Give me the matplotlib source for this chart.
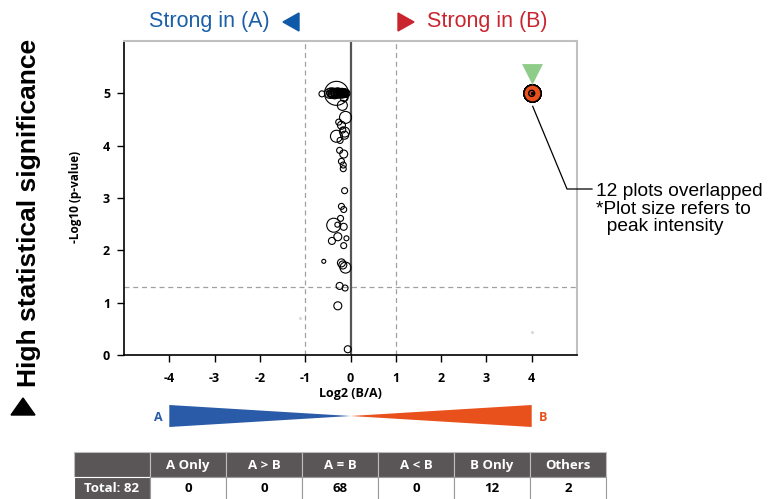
import matplotlib
matplotlib.use("Agg")
import matplotlib.pyplot as plt
import numpy as np
from matplotlib.patches import Rectangle, Polygon

# ---------------- data ----------------
# A = B proteins (log2 ratio, -log10 p, relative peak intensity)
eq_x = [-0.31, -0.63, -0.46, -0.42, -0.38, -0.35, -0.32, -0.28, -0.25, -0.22, -0.19, -0.16,
        -0.13, -0.10, -0.40, -0.36, -0.27, -0.23, -0.18, -0.14, -0.12, -0.30, -0.20,
        -0.18, -0.14, -0.11, -0.26, -0.20, -0.13, -0.31, -0.13, -0.23, -0.17, -0.24,
        -0.15, -0.20, -0.16, -0.16, -0.13, -0.20, -0.15, -0.22, -0.37, -0.29, -0.15,
        -0.28, -0.41, -0.09, -0.15, -0.59, -0.20, -0.11, -0.17, -0.24, -0.12, -0.28,
        -0.06, -0.33, -0.21, -0.26, -0.17, -0.44, -0.12, -0.19, -0.34, -0.24, -0.15, -0.29]
eq_y = [5.00, 4.99, 5.00, 5.01, 5.00, 4.99, 5.00, 5.01, 5.00, 5.00, 5.01, 5.00,
        5.00, 5.00, 4.98, 5.02, 4.99, 5.01, 4.99, 5.00, 5.02, 5.00, 4.98,
        4.77, 4.92, 4.54, 4.45, 4.39, 4.26, 4.18, 4.20, 4.10, 4.30, 3.91,
        3.84, 3.70, 3.63, 3.56, 3.14, 2.84, 2.78, 2.61, 2.48, 2.49, 2.45,
        2.26, 2.18, 2.23, 2.09, 1.79, 1.76, 1.67, 1.72, 1.32, 1.28, 0.94,
        0.11, 5.00, 5.00, 5.00, 5.00, 5.00, 5.00, 5.00, 5.00, 5.00, 5.00, 5.00]
eq_int = [12, 3, 5, 5, 5, 5, 5, 5, 4.5, 4.5, 4.5, 4.5,
          4, 4, 4, 4, 4, 4, 4, 4, 3.5, 4, 3.5,
          5, 4, 6, 3, 4, 5, 6, 4, 3, 3, 3,
          4, 3, 3, 3, 3, 3, 3, 3, 7, 2.5, 3.5,
          4, 3.5, 2.5, 3, 2, 4, 5.5, 4, 3.5, 3, 4,
          3.5, 4, 4, 4, 4, 3.5, 4, 4, 4, 3.5, 3.5, 3.5]

# B only proteins (12 overlapping at the same position)
bonly_x = [4.0] * 12
bonly_y = [5.0] * 12

# others
oth_x = [-1.11, 4.0]
oth_y = [0.70, 0.44]

x_ticks = [-4, -3, -2, -1, 0, 1, 2, 3, 4]
y_ticks = [0, 1, 2, 3, 4, 5]
fc_thr = 1.0
p_thr = 1.301

tbl_header = ["", "A Only", "A > B", "A = B", "A < B", "B Only", "Others"]
tbl_row = ["Total: 82", "0", "0", "68", "0", "12", "2"]

# ---------------- figure ----------------
W, H = 768, 499
fig = plt.figure(figsize=(W / 100, H / 100), dpi=100)

def fx(px):
    return px / W

def fy(py):
    return 1 - py / H

ax_l, ax_r, ax_t, ax_b = 124, 577, 41, 355
ax = fig.add_axes([fx(ax_l), fy(ax_b), fx(ax_r - ax_l), (ax_b - ax_t) / H])
ax.set_xlim(-5, 5)
ax.set_ylim(0, 6)

def rad2s(r):
    return (2 * r * 0.72) ** 2

ax.axvline(0, color="#555555", lw=1.6, zorder=1)
for v in (-fc_thr, fc_thr):
    ax.axvline(v, color="#a0a0a0", lw=0.9, ls=(0, (4, 3)), zorder=1)
ax.axhline(p_thr, color="#a0a0a0", lw=0.9, ls=(0, (4, 3)), zorder=1)

ax.scatter(eq_x, eq_y, s=[rad2s(r) for r in eq_int], facecolors="none",
           edgecolors="black", linewidths=0.8, zorder=3)
ax.scatter(oth_x, oth_y, s=rad2s(1.5), color="#d8d8d8", linewidths=0, zorder=2)
ax.scatter(bonly_x, bonly_y, s=rad2s(8.5), facecolors="#e8501c",
           edgecolors="black", linewidths=1.0, zorder=4)
ax.scatter(bonly_x[:1], bonly_y[:1], s=rad2s(3), facecolors="none",
           edgecolors="black", linewidths=1.0, zorder=5)
ax.scatter(bonly_x[:1], bonly_y[:1], s=rad2s(1), color="black", zorder=5)
# green marker above B only
ax.scatter([bonly_x[0]], [bonly_y[0] + 0.36], marker="v", s=225,
           color="#8fcc8a", linewidths=0, zorder=4)

for side in ("left", "bottom"):
    ax.spines[side].set_color("black")
    ax.spines[side].set_linewidth(1.2)
for side in ("top", "right"):
    ax.spines[side].set_color("#c0c0c0")
    ax.spines[side].set_linewidth(1.5)

tick_font = dict(fontsize=9, fontweight="bold", family="Open Sans")
ax.set_xticks(x_ticks)
ax.set_xticklabels([str(t) for t in x_ticks], **tick_font)
ax.set_yticks(y_ticks)
ax.set_yticklabels([str(t) for t in y_ticks], **tick_font)
ax.tick_params(axis="both", direction="out", length=5, width=1.0)
ax.tick_params(axis="y", pad=5)
ax.tick_params(axis="x", pad=7)
ax.set_xlabel("Log2 (B/A)", labelpad=2, **tick_font)

fig.text(fx(75), fy(197), "-Log10 (p-value)", rotation=90, fontsize=8.5,
         fontweight="bold", family="Open Sans", ha="center", va="center")

fig.text(fx(29), fy(213), "High statistical significance", rotation=90,
         fontsize=19, fontweight="bold", family="Liberation Sans",
         ha="center", va="center")

# overlay for decorations in pixel space
ov = fig.add_axes([0, 0, 1, 1], zorder=10)
ov.set_xlim(0, W)
ov.set_ylim(H, 0)
ov.axis("off")
ov.add_patch(Polygon([[11, 415], [35, 415], [23, 398]], closed=True,
                     color="black"))

# titles
blue = "#1a5fa8"
red = "#c9252f"
fig.text(fx(149), fy(22), "Strong in (A)", color=blue, fontsize=15.5,
         family="Liberation Sans", ha="left", va="center")
ov.add_patch(Polygon([[283, 22], [299, 13], [299, 31]], closed=True, color="#0f5aa8"))
ov.add_patch(Polygon([[398, 13], [398, 31], [414, 22]], closed=True, color=red))
fig.text(fx(427), fy(22), "Strong in (B)", color=red, fontsize=15.5,
         family="Liberation Sans", ha="left", va="center")

# annotation
p0 = ax.transData.transform((bonly_x[0], bonly_y[0]))
p0x, p0y = p0[0], H - p0[1]
ov.plot([p0x + 1, 567, 592], [p0y + 13, 189, 189], color="black", lw=0.9)
fig.text(fx(596), fy(209), "12 plots overlapped\n*Plot size refers to\n  peak intensity",
         fontsize=13.8, family="Liberation Sans", ha="left", va="center",
         linespacing=1.05)

# wedge bar
wax = fig.add_axes([fx(ax_l), fy(427), fx(ax_r - ax_l), 22 / H])
wax.set_xlim(-5, 5)
wax.set_ylim(-1, 1)
wax.axis("off")
wax.fill([x_ticks[0], x_ticks[0], 0], [-1, 1, 0], color="#2a5ba8", lw=0)
wax.fill([0, x_ticks[-1], x_ticks[-1]], [0, 1, -1], color="#e8501c", lw=0)
wax.text(x_ticks[0] - 0.25, -0.1, "A", color="#2a5ba8", fontsize=9,
         fontweight="bold", family="Open Sans", ha="center", va="center")
wax.text(x_ticks[-1] + 0.25, -0.1, "B", color="#e8501c", fontsize=9,
         fontweight="bold", family="Open Sans", ha="center", va="center")

# table
tx0, cw = 74, 76
ty0, rh1, rh2 = 452, 25, 24
dark = "#5a5657"
cell_font = dict(fontsize=9.5, fontweight="bold", family="Open Sans",
                 ha="center", va="center")
for i, (h, v) in enumerate(zip(tbl_header, tbl_row)):
    x0 = tx0 + i * cw
    ov.add_patch(Rectangle((x0, ty0), cw, rh1, facecolor=dark,
                           edgecolor="#bdbdbd", lw=0.8))
    ov.text(x0 + cw / 2, ty0 + rh1 / 2 + 1, h, color="white", **cell_font)
    if i == 0:
        ov.add_patch(Rectangle((x0, ty0 + rh1), cw, rh2, facecolor=dark,
                               edgecolor="white", lw=0.8))
        ov.text(x0 + cw / 2, ty0 + rh1 + rh2 / 2 - 1, v, color="white", **cell_font)
    else:
        ov.add_patch(Rectangle((x0, ty0 + rh1), cw, rh2, facecolor="white",
                               edgecolor="#9a9a9a", lw=0.8))
        ov.text(x0 + cw / 2, ty0 + rh1 + rh2 / 2 - 1, v, color="black", **cell_font)

fig.savefig("out.png", dpi=100)
